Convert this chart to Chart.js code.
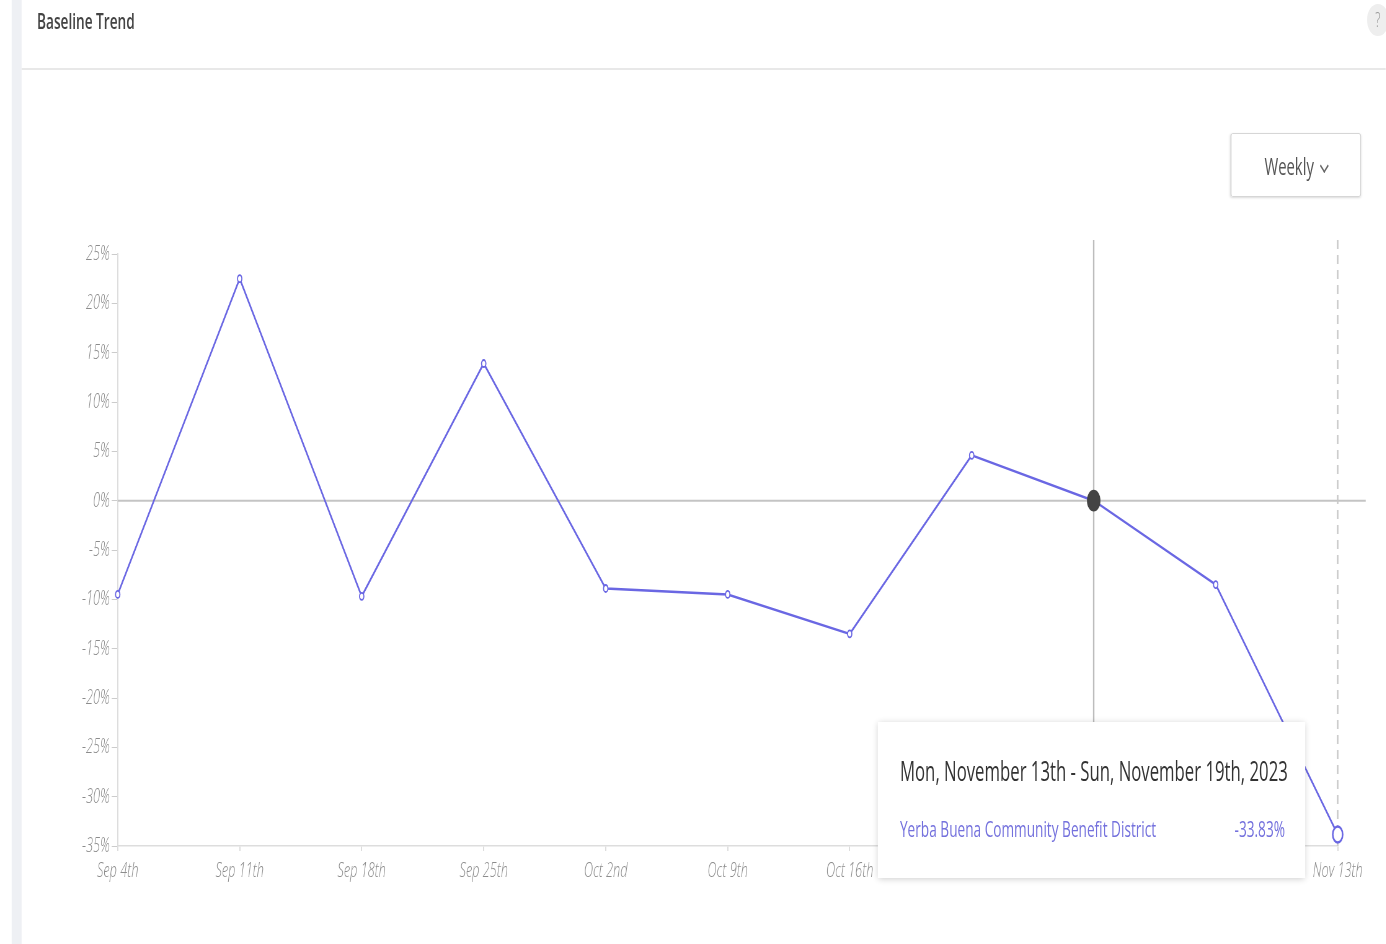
<!DOCTYPE html>
<html>
<head>
<meta charset="utf-8">
<title>Baseline Trend</title>
<script src="https://cdn.jsdelivr.net/npm/chart.js@4.4.1/dist/chart.umd.min.js"></script>
<style>
  html, body { margin: 0; padding: 0; width: 1386px; height: 944px; overflow: hidden; background: #fff; font-family: "Open Sans", sans-serif; }
  #page { position: absolute; left: 0; top: 0; height: 944px; transform-origin: 0 0; }
  .abs { position: absolute; }
  #strip { background: #eef0f4; }
  #title { font-size: 22px; font-weight: 600; color: #444; line-height: 30px; white-space: nowrap; }
  #divider { background: #e8e8e8; }
  #help { border-radius: 50%; background: #eee; color: #999; font-size: 20px; font-weight: 300; text-align: center; line-height: 32px; }
  #weekly { border: 1px solid #ccc; border-radius: 3px; box-shadow: 0 1px 3px rgba(0,0,0,0.15); box-sizing: border-box;
            display: flex; align-items: center; justify-content: center; font-size: 24px; color: #555; }
  .chev { width: 8px; height: 8px; border-right: 2px solid #666; border-bottom: 2px solid #666; transform: rotate(45deg); margin-left: 12px; margin-top: 2px; }
  #tip { background: #fff; box-shadow: 0 1px 8px rgba(0,0,0,0.2); box-sizing: border-box; }
  #tipTitle { position: absolute; top: 30px; font-size: 27px; color: #333; line-height: 38px; white-space: nowrap; }
  #tipRow { position: absolute; top: 91px; font-size: 22px; color: #7471dd; line-height: 30px; white-space: nowrap; display: flex; justify-content: space-between; }
</style>
</head>
<body>
<div id="page">
  <div id="strip" class="abs"></div>
  <div id="title" class="abs">Baseline Trend</div>
  <div id="divider" class="abs"></div>
  <div id="help" class="abs">?</div>
  <div id="weekly" class="abs">Weekly<span class="chev"></span></div>
  <div id="chartBox" class="abs"><canvas id="trendChart"></canvas></div>
  <div id="tip" class="abs">
    <div id="tipTitle"></div>
    <div id="tipRow"><span id="tipName"></span><span id="tipValue"></span></div>
  </div>
</div>
<script>
// Chart data
const weekLabels = ['Sep 4th', 'Sep 11th', 'Sep 18th', 'Sep 25th', 'Oct 2nd', 'Oct 9th', 'Oct 16th', 'Oct 23rd', 'Oct 30th', 'Nov 6th', 'Nov 13th'];
const baselineChange = [-9.5, 22.5, -9.7, 13.9, -8.9, -9.5, -13.5, 4.6, 0.0, -8.5, -33.83];
const yTickValues = [25, 20, 15, 10, 5, 0, -5, -10, -15, -20, -25, -30, -35];
const seriesName = 'Yerba Buena Community Benefit District';
const tooltipTitle = 'Mon, November 13th - Sun, November 19th, 2023';
const hoverIndex = 8;
const tooltipIndex = 10;

// The screenshot is squeezed horizontally, so lay out wide and scale down
const S = 0.62;
const LINE = '#6a67e3';

function place(id, x, y, w, h) {
    const el = document.getElementById(id);
    el.style.left = (x / S) + 'px';
    el.style.top = y + 'px';
    if (w != null) el.style.width = (w / S) + 'px';
    if (h != null) el.style.height = h + 'px';
}

const page = document.getElementById('page');
page.style.width = (1386 / S) + 'px';
page.style.transform = `scaleX(${S})`;

place('strip', 12, 0, 10, 944);
place('title', 37, 5);
place('divider', 22, 68, 1364, 2);
place('help', 1367, 4, 22, 32);
place('weekly', 1231, 133, 130, 64);
place('chartBox', 22, 220, 1364, 680);
place('tip', 878, 722, 427, 156);

document.getElementById('tipTitle').style.left = (22 / S) + 'px';
const row = document.getElementById('tipRow');
row.style.left = (22 / S) + 'px';
row.style.width = ((1285 - 900) / S) + 'px';
document.getElementById('tipTitle').textContent = tooltipTitle;
document.getElementById('tipName').textContent = seriesName;
document.getElementById('tipValue').textContent = baselineChange[tooltipIndex].toFixed(2) + '%';

// Zero line and hover guides
const guides = {
    id: 'guides',
    beforeDatasetsDraw(chart) {
        const { ctx, chartArea, scales: { x, y } } = chart;
        const zeroY = y.getPixelForValue(0);
        ctx.save();
        ctx.strokeStyle = '#c4c4c4';
        ctx.lineWidth = 2;
        ctx.beginPath();
        ctx.moveTo(chartArea.left, zeroY);
        ctx.lineTo(chartArea.right + (1366 - 1338) / S, zeroY);
        ctx.stroke();

        const hx = x.getPixelForValue(hoverIndex);
        ctx.strokeStyle = '#bdbdbd';
        ctx.lineWidth = 2.4;
        ctx.beginPath();
        ctx.moveTo(hx, chartArea.top - 14);
        ctx.lineTo(hx, chartArea.bottom);
        ctx.stroke();

        const tx = x.getPixelForValue(tooltipIndex);
        ctx.strokeStyle = '#c8c8c8';
        ctx.setLineDash([9, 6]);
        ctx.beginPath();
        ctx.moveTo(tx, chartArea.top - 14);
        ctx.lineTo(tx, chartArea.bottom);
        ctx.stroke();
        ctx.restore();
    }
};

const tickFont = { family: 'Open Sans', size: 20.5, style: 'italic', weight: 300 };

new Chart(document.getElementById('trendChart'), {
    type: 'line',
    data: {
        labels: weekLabels,
        datasets: [{
            label: seriesName,
            data: baselineChange,
            borderColor: LINE,
            borderWidth: 2.5,
            tension: 0,
            fill: false,
            pointRadius: c => c.dataIndex === hoverIndex ? 10 : c.dataIndex === tooltipIndex ? 8 : 3.5,
            pointBorderWidth: c => c.dataIndex === tooltipIndex ? 2.5 : 1.8,
            pointBackgroundColor: c => c.dataIndex === hoverIndex ? '#444' : '#fff',
            pointBorderColor: c => c.dataIndex === hoverIndex ? '#444' : LINE
        }]
    },
    options: {
        responsive: true,
        maintainAspectRatio: false,
        animation: false,
        events: [],
        layout: { padding: { top: 34, right: (1386 - 1338) / S, bottom: 0, left: 0 } },
        plugins: {
            legend: { display: false },
            tooltip: { enabled: false }
        },
        scales: {
            x: {
                grid: { drawOnChartArea: false, tickLength: 5, color: '#ddd', lineWidth: 2 },
                border: { color: '#ddd', width: 1.5 },
                ticks: { font: tickFont, color: '#8c8c8c', padding: 8, maxRotation: 0, autoSkip: false },
                afterFit: s => { s.height = 54; }
            },
            y: {
                min: -35,
                max: 25,
                afterBuildTicks: s => { s.ticks = yTickValues.map(v => ({ value: v })); },
                grid: { drawOnChartArea: false, tickLength: 6 / S, color: '#ccc' },
                border: { color: '#ddd', width: 2 },
                ticks: { font: tickFont, color: '#8c8c8c', padding: 3, callback: v => v + '%' },
                afterFit: s => { s.width = (118 - 22) / S; }
            }
        }
    },
    plugins: [guides]
});
</script>
</body>
</html>
